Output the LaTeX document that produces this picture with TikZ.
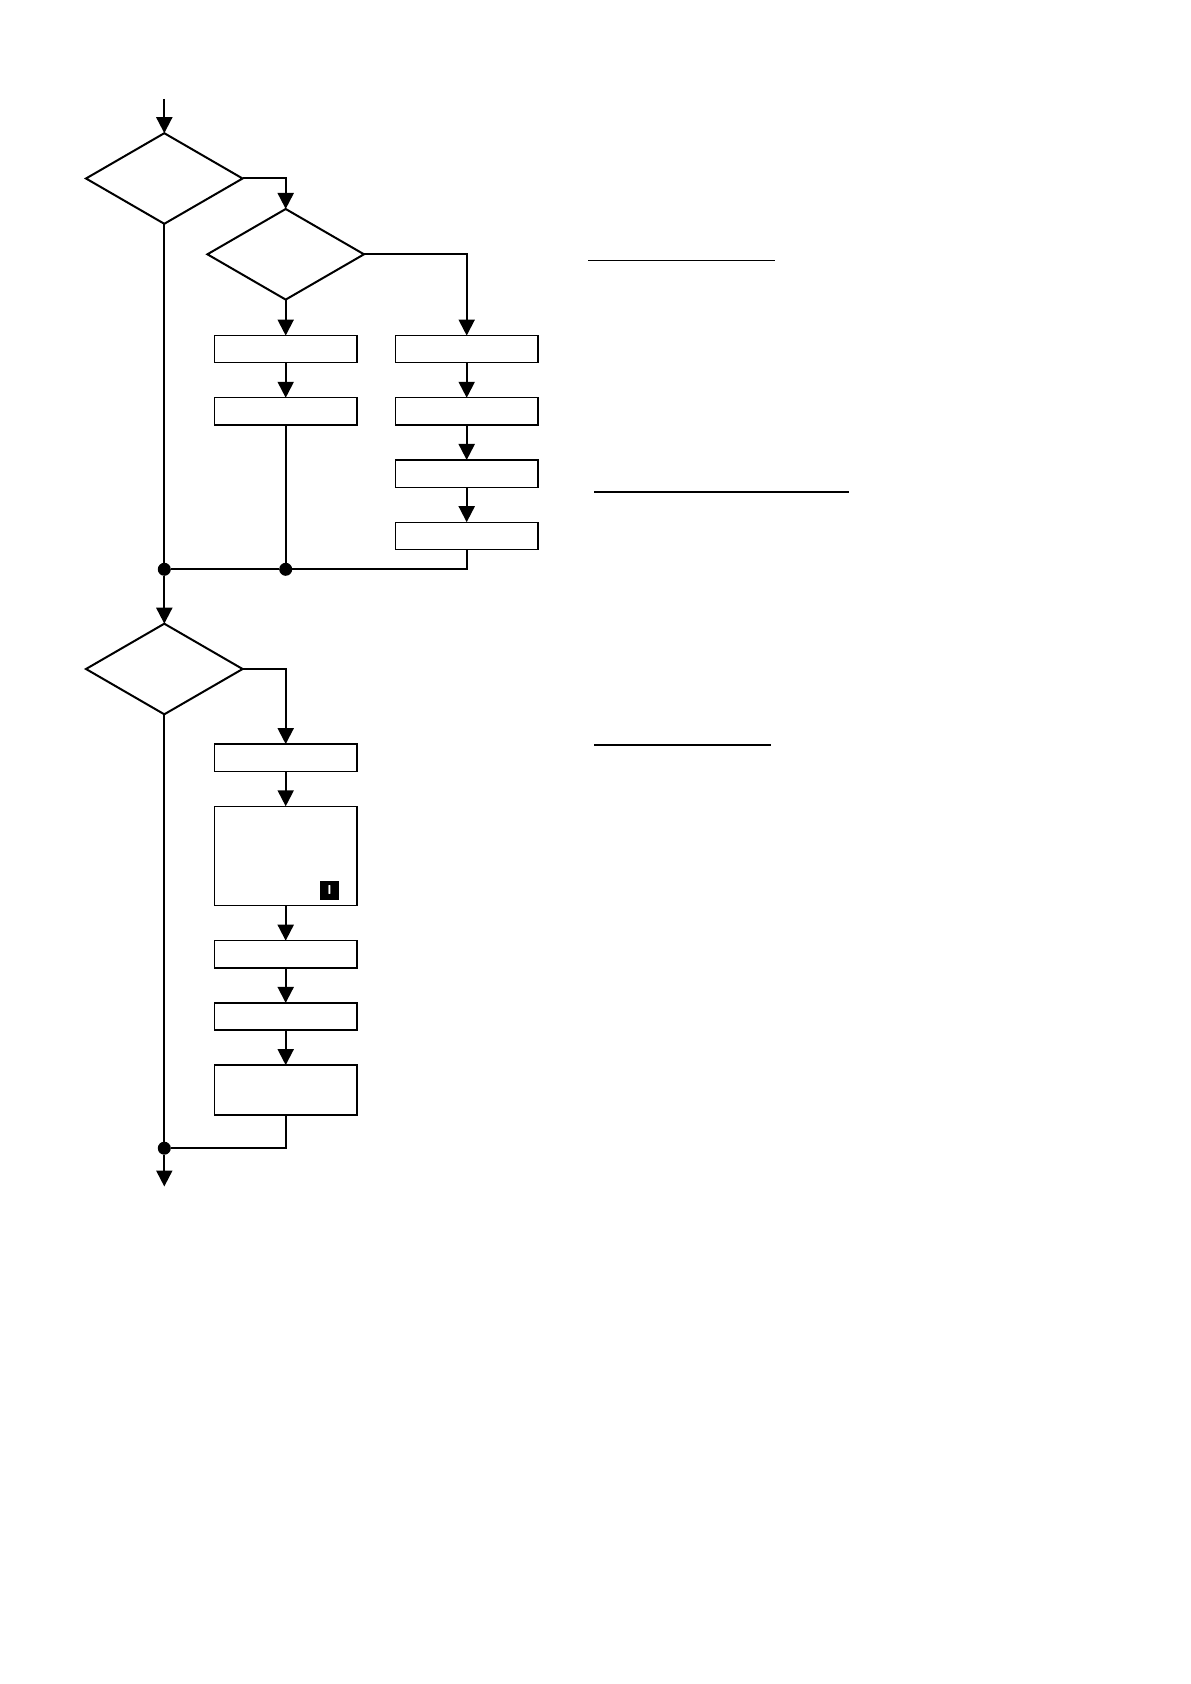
\documentclass[tikz,border=0pt]{standalone}
\usepackage{tikz}
\usetikzlibrary{shapes.geometric,arrows.meta,positioning}
\tikzset{
  sbox/.style={rectangle, draw, line width=0.65pt, minimum width=71.2pt,
               minimum height=13.6pt, inner sep=0pt, outer sep=0pt},
  cond/.style={diamond, draw, line width=1pt, minimum width=78.3pt,
               minimum height=45.3pt, inner sep=0pt, outer sep=0pt},
  arr/.style={-{Triangle[length=8pt,width=8pt]}, line width=1pt},
  ln/.style={line width=1pt},
  jn/.style={circle, fill, inner sep=0pt, outer sep=0pt, minimum size=6.5pt},
  tag/.style={rectangle, fill=black, text=white, inner sep=0pt, outer sep=0pt,
              minimum size=9.3pt, font=\sffamily\bfseries\fontsize{6.5}{6.5}\selectfont},
}
\begin{document}
\begin{tikzpicture}[x=0.5pt, y=-0.5pt]
    \useasboundingbox (0,0) rectangle (1190,1684);
    % first block
    \coordinate (in) at (164.3,99);
    \node[cond] (d1) at (164.3,178.5) {};
    \node[cond] (d2) at (285.7,254.3) {};
    \node[sbox, below=18pt of d2]   (l1) {};
    \node[sbox, below=17.5pt of l1] (l2) {};
    \node[sbox, right=19.3pt of l1] (r1) {};
    \node[sbox, below=17.5pt of r1] (r2) {};
    \node[sbox, below=17.5pt of r2] (r3) {};
    \node[sbox, below=17.5pt of r3] (r4) {};
    \node[jn] (j1) at (164.3,569.3) {};
    \node[jn] (j2) at (l2 |- j1) {};
    \draw[arr] (in) -- (d1);
    \draw[arr] (d1.east) -| (d2.north);
    \draw[arr] (d2.east) -| (r1.north);
    \draw[arr] (d2) -- (l1); \draw[arr] (l1) -- (l2);
    \draw[arr] (r1) -- (r2); \draw[arr] (r2) -- (r3); \draw[arr] (r3) -- (r4);
    \draw[ln] (d1) -- (j1);
    \draw[ln] (l2) -- (j2);
    \draw[ln] (r4) |- (j2) -- (j1);
    % second block
    \node[cond] (d3) at (164.3,669) {};
    \node[sbox] (a) at (285.7,757.7) {};
    \node[sbox, minimum height=49.7pt, below=17.5pt of a] (b) {};
    \node[tag, above left=3pt and 9pt of b.south east] (ic) {I};
    \node[sbox, below=17.5pt of b] (c) {};
    \node[sbox, below=17.5pt of c] (d) {};
    \node[sbox, minimum height=25pt, below=17.5pt of d] (e) {};
    \node[jn] (j3) at (164.3,1148.2) {};
    \coordinate (out) at (164.3,1186.5);
    \draw[arr] (j1) -- (d3);
    \draw[arr] (d3.east) -| (a.north);
    \draw[arr] (a) -- (b); \draw[arr] (b) -- (c);
    \draw[arr] (c) -- (d); \draw[arr] (d) -- (e);
    \draw[ln] (d3) -- (j3);
    \draw[ln] (e) |- (j3);
    \draw[arr] (j3) -- (out);
    % rules on the right
    \draw[line width=0.5pt]  (588.3,261) -- (775,261);
    \draw[line width=1pt]    (594,491.7) -- (848.7,491.7);
    \draw[line width=0.65pt] (594,745) -- (771,745);
\end{tikzpicture}
\end{document}
